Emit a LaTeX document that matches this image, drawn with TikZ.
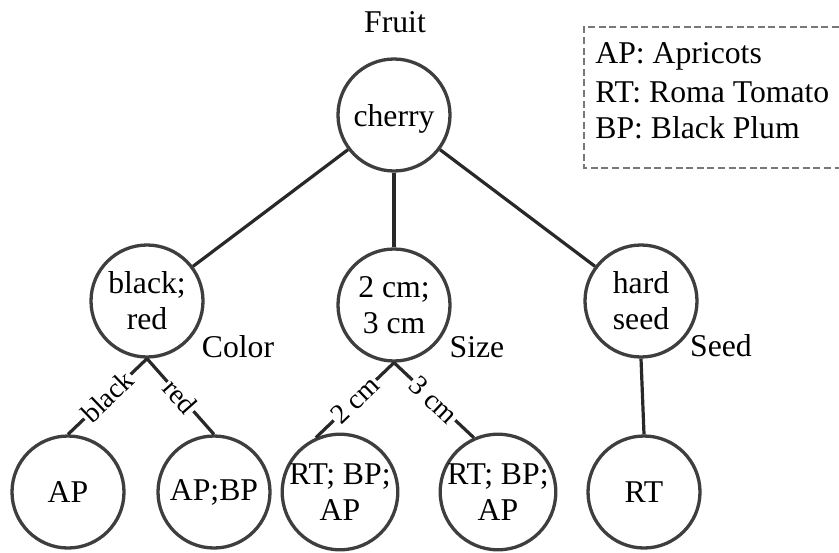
\documentclass[tikz,border=0pt]{standalone}
\usepackage{fontspec}
\setmainfont{Liberation Serif}
\definecolor{ringgray}{RGB}{62,62,62}
\definecolor{linkgray}{RGB}{40,40,40}
\definecolor{boxgray}{RGB}{120,120,120}
\begin{document}
\begin{tikzpicture}[x=0.5pt,y=-0.5pt,
  every node/.style={font=\fontsize{15.85}{18}\selectfont},
  vert/.style={circle,draw=ringgray,line width=1.65pt,minimum size=56pt,inner sep=0pt,align=center},
  link/.style={draw=linkgray,line width=1.6pt},
  lab/.style={font=\fontsize{14}{15}\selectfont,fill=white,inner sep=0.8pt,sloped,midway},
  tag/.style={anchor=base,inner sep=0pt},
  keytext/.style={anchor=base west,inner sep=0pt}
]
\useasboundingbox (0,0) rectangle (839,552);

% legend
\draw[boxgray,line width=0.75pt,dash pattern=on 3.5pt off 1.8pt]
  (839,27) -- (584,27) -- (584,168) -- (839,168);
\node[keytext] (k1) at (595,63)  {AP: Apricots};
\node[keytext] (k2) at (595,102) {RT: Roma Tomato};
\node[keytext] (k3) at (595,138) {BP: Black Plum};

% tree nodes
\node[tag] (fruit) at (395,32) {Fruit};
\node[vert,text depth=0pt] (cherry) at (394,115) {cherry};

\node[vert] (color) at (147,301) {black;\\red};
\node[vert] (size)  at (394,305) {2 cm;\\3 cm};
\node[vert] (seed)  at (641,301) {hard\\seed};

\node[tag] (tcolor) at (238,357) {Color};
\node[tag] (tsize)  at (477,357) {Size};
\node[tag] (tseed)  at (721,356) {Seed};

\node[vert] (ap)   at (68,492)  {AP};
\node[vert] (apbp) at (214,492) {AP;BP};
\node[vert] (rba1) at (340,492) {RT; BP;\\AP};
\node[vert] (rba2) at (498,492) {RT; BP;\\AP};
\node[vert] (rt)   at (644,492) {RT};

% connectors
\draw[link] (cherry) -- (color);
\draw[link] (cherry) -- (size);
\draw[link] (cherry) -- (seed);

\draw[link] (color.south) -- node[lab]{black} (ap.north);
\draw[link] (color.south) -- node[lab]{red} (apbp.north);
\draw[link] (size.south) -- node[lab]{2 cm} (rba1.114);
\draw[link] (size.south) -- node[lab]{3 cm} (rba2.114);
\draw[link] (seed.south) -- (rt.north);
\end{tikzpicture}
\end{document}
